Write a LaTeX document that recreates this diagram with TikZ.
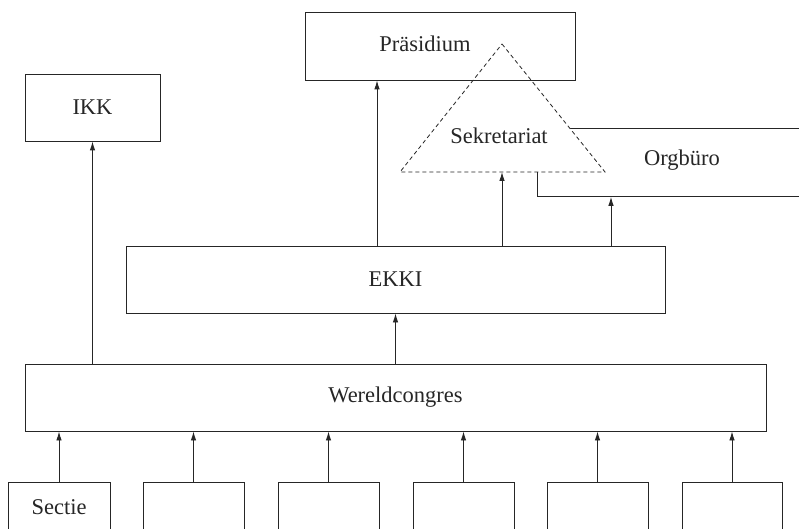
\documentclass[tikz,border=0pt]{standalone}
\usepackage{fontspec}
\setmainfont{Liberation Serif}
\usetikzlibrary{arrows.meta}
\definecolor{ink}{HTML}{262626}
\tikzset{
  box/.style={draw=ink, line width=0.9bp, fill=none, inner sep=0pt, text=ink,
              font=\fontsize{22.5bp}{26bp}\selectfont},
  arr/.style={draw=ink, line width=0.9bp, -{Latex[length=9bp,width=5.5bp]}},
  lbl/.style={text=ink, inner sep=0pt, font=\fontsize{22.5bp}{26bp}\selectfont},
  dashtri/.style={draw=ink, line width=0.8bp, dash pattern=on 4bp off 3bp, fill=white}
}
\begin{document}
\begin{tikzpicture}[x=1bp,y=-1bp]
\clip (0,0) rectangle (799,529);
\fill[white] (0,0) rectangle (799,529);
% Orgbuero (partly hidden behind the triangle)
\node[box, minimum width=300bp, minimum height=68bp, anchor=north west] (org) at (537,128) {};
\node[lbl] (orgtext) at (682,160) {Orgbüro};
% Sekretariat triangle
\coordinate (sekapex) at (502,44);
\coordinate (sekbase) at (502,172);
\draw[dashtri] (sekapex) -- (605,172) -- (400,172) -- cycle;
\node[lbl] (sektext) at (499,136) {Sekretariat};
% Praesidium
\node[box, minimum width=270bp, minimum height=68bp, label={[lbl,xshift=-15bp,yshift=2bp]center:Präsidium}] (praes) at (440,46) {};
% IKK
\node[box, minimum width=135bp, minimum height=67bp] (ikk) at (92.5,107.5) {IKK};
% EKKI
\node[box, minimum width=539bp, minimum height=67bp] (ekki) at (395.5,279.5) {EKKI};
% Wereldcongres
\node[box, minimum width=741bp, minimum height=67bp] (wc) at (395.5,397.5) {Wereldcongres};
% Secties
\node[box, minimum width=102bp, minimum height=50bp] (s1) at (59,507) {Sectie};
\node[box, minimum width=101bp, minimum height=50bp] (s2) at (193.5,507) {};
\node[box, minimum width=101bp, minimum height=50bp] (s3) at (328.5,507) {};
\node[box, minimum width=101bp, minimum height=50bp] (s4) at (463.5,507) {};
\node[box, minimum width=101bp, minimum height=50bp] (s5) at (597.5,507) {};
\node[box, minimum width=100bp, minimum height=50bp] (s6) at (732,507) {};
% connectors
\foreach \s in {s1,s2,s3,s4,s5,s6}{
  \draw[arr] (\s.north) -- (\s.north |- wc.south);
}
\draw[arr] (wc.north -| ekki.south) -- (ekki.south);
\draw[arr] (wc.north -| ikk.south) -- (ikk.south);
\draw[arr] (ekki.north -| 377,0) -- (praes.south -| 377,0);
\draw[arr] (ekki.north -| sekbase) -- (sekbase);
\draw[arr] (ekki.north -| 611,0) -- (org.south -| 611,0);
\end{tikzpicture}
\end{document}
